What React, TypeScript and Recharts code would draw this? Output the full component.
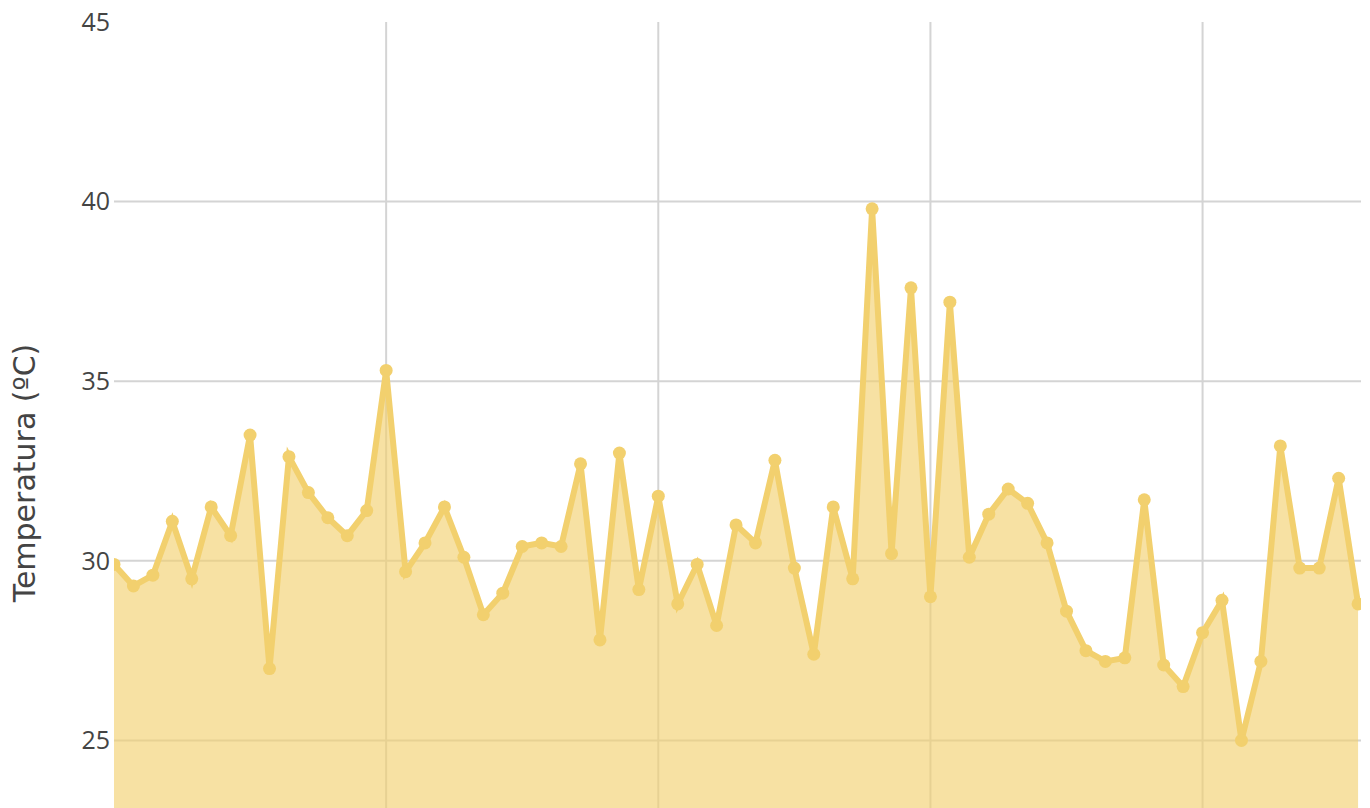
import { AreaChart, Area, XAxis, YAxis, CartesianGrid } from "recharts";

// temperature readings, one per sample
const temps = [
  29.9, 29.3, 29.6, 31.1, 29.5, 31.5, 30.7, 33.5, 27.0, 32.9,
  31.9, 31.2, 30.7, 31.4, 35.3, 29.7, 30.5, 31.5, 30.1, 28.5,
  29.1, 30.4, 30.5, 30.4, 32.7, 27.8, 33.0, 29.2, 31.8, 28.8,
  29.9, 28.2, 31.0, 30.5, 32.8, 29.8, 27.4, 31.5, 29.5, 39.8,
  30.2, 37.6, 29.0, 37.2, 30.1, 31.3, 32.0, 31.6, 30.5, 28.6,
  27.5, 27.2, 27.3, 31.7, 27.1, 26.5, 28.0, 28.9, 25.0, 27.2,
  33.2, 29.8, 29.8, 32.3, 28.8,
];
const xTicks = [0, 14, 28, 42, 56];
const yTicks = [25, 30, 35, 40, 45];
const gridX = [14, 28, 42, 56];
const gridY = [25, 30, 35, 40];

const data = temps.map((t, i) => ({ i, t }));

const COLOR = "#F2D06E";
const FONT = "'Open Sans', 'DejaVu Sans', sans-serif";

const YLabel = () => (
  <text
    x={24}
    y={473}
    transform="rotate(-90 24 473)"
    textAnchor="middle"
    dominantBaseline="central"
    fontSize={30}
    fill="#444"
    fontFamily="'DejaVu Sans', sans-serif"
  >
    Temperatura (ºC)
  </text>
);

export default function App() {
  return (
    <div style={{ position: "absolute", left: 0, top: 0 }}>
      <AreaChart
        width={1370}
        height={808}
        data={data}
        margin={{ top: 22, right: 9, bottom: 0, left: 0 }}
      >
        <CartesianGrid
          stroke="#d4d4d4"
          strokeWidth={2}
          horizontalValues={gridY}
          verticalValues={gridX}
        />
        <XAxis
          dataKey="i"
          type="number"
          domain={[0, 64.15]}
          ticks={xTicks}
          allowDataOverflow
          hide
        />
        <YAxis
          width={114}
          domain={[23.12, 45]}
          ticks={yTicks}
          allowDataOverflow
          axisLine={false}
          tickLine={false}
          tickSize={0}
          tickMargin={4}
          tick={{ fontSize: 25, fill: "#444", fontFamily: FONT }}
          label={<YLabel />}
        />
        <Area
          dataKey="t"
          type="linear"
          stroke={COLOR}
          strokeWidth={6}
          fill={COLOR}
          fillOpacity={0.63}
          baseValue="dataMin"
          dot={{ r: 6.5, fill: COLOR, fillOpacity: 1, stroke: "none" }}
          activeDot={false}
          isAnimationActive={false}
        />
      </AreaChart>
    </div>
  );
}
